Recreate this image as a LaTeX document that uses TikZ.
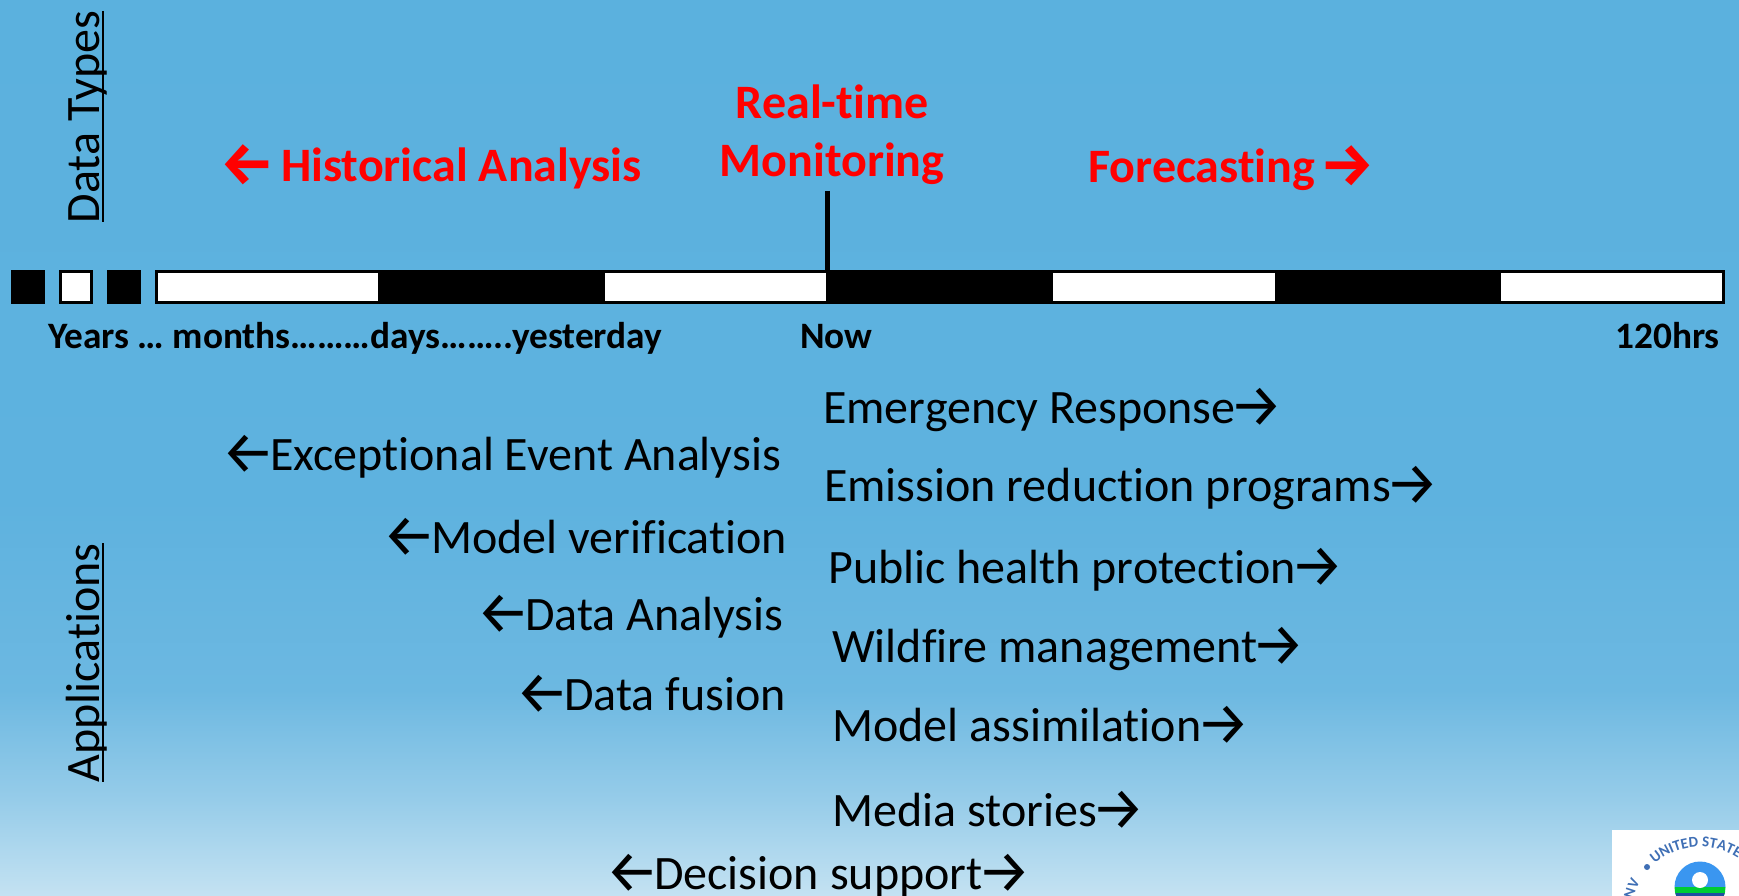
\documentclass[tikz,border=0pt]{standalone}
\usepackage{fontspec}
\setmainfont{Carlito}[RawFeature={-liga}]
\newfontfamily\arwfont{Fira Sans}
\usetikzlibrary{decorations.text}
\newcommand{\rarw}{\makebox[43pt][c]{\raisebox{-3pt}{\arwfont\fontsize{60}{60}\selectfont →}}}
\newcommand{\larw}{\makebox[43pt][c]{\raisebox{-3pt}{\arwfont\fontsize{60}{60}\selectfont ←}}}
\definecolor{skya}{HTML}{5BB1DE}
\definecolor{skyb}{HTML}{5EB2DF}
\definecolor{skyc}{HTML}{6CB8E1}
\definecolor{skyd}{HTML}{96CCE9}
\definecolor{skye}{HTML}{C4E2F2}
\definecolor{eparing}{HTML}{3F6FB5}
\definecolor{epablue}{HTML}{3A96F0}
\definecolor{epagreen}{HTML}{00CC33}
\definecolor{epadark}{HTML}{1F4FA0}
\pgfdeclareverticalshading{skyshade}{100bp}{color(0bp)=(skye);color(25bp)=(skye);color(30.4bp)=(skyd);color(36.5bp)=(skyc);color(47.1bp)=(skyb);color(75bp)=(skya);color(100bp)=(skya)}
\tikzset{
 seg/.style={anchor=north west,minimum height=31pt,inner sep=0pt,outer sep=0pt,line width=3pt},
 blackseg/.style={seg,fill=black,draw=black},
 whiteseg/.style={seg,fill=white,draw=black},
 scale label/.style={font=\fontsize{37.3}{37.3}\selectfont\bfseries,anchor=mid west,inner sep=0pt},
 head/.style={font=\fontsize{48}{58}\selectfont\bfseries,text=red,inner sep=0pt,align=center},
 app/.style={font=\fontsize{48}{48}\selectfont,anchor=mid west,inner sep=0pt},
 side/.style={font=\fontsize{48}{48}\selectfont,rotate=90,inner sep=0pt,anchor=mid},
}
\begin{document}
\begin{tikzpicture}[x=1pt,y=-1pt]
\useasboundingbox (0,0) rectangle (1739,896);
\shade[shading=skyshade] (0,0) rectangle (1739,896);
% side titles
\node[side] (dt) at (97,117) {Data Types};
\draw[line width=2.5pt] (103,11) -- (103,222);
\node[side] (ap) at (97,663) {Applications};
\draw[line width=2.5pt] (103,543) -- (103,782);
% headings
\node[head,anchor=mid west] (hist) at (226,179) {\larw\hspace{12pt}Historical Analysis};
\node[head] (rt) at (832,135) {Real-time\\Monitoring};
\node[head,anchor=mid west] (fc) at (1088,180) {Forecasting \rarw};
% time bar
\node[blackseg,minimum width=31pt] (b1) at (12.5,271.5) {};
\node[whiteseg,minimum width=31pt] (b2) at (60.5,271.5) {};
\node[blackseg,minimum width=31pt] (b3) at (108.5,271.5) {};
\node[whiteseg,minimum width=222.5pt] (b4) at (156.5,271.5) {};
\node[blackseg,minimum width=222pt] (b5) at (381.5,271.5) {};
\node[whiteseg,minimum width=223.5pt] (b6) at (603.5,271.5) {};
\node[blackseg,minimum width=222pt] (b7) at (829.5,271.5) {};
\node[whiteseg,minimum width=224.5pt] (b8) at (1051.5,271.5) {};
\node[blackseg,minimum width=222pt] (b9) at (1277.5,271.5) {};
\node[whiteseg,minimum width=224pt] (b10) at (1499.5,271.5) {};
\coordinate (tick) at (827,191);
\draw[line width=5pt] (tick) -- (827,270);
% scale labels
\node[scale label] (yrs) at (48,346) {Years … months………days……..yesterday};
\node[scale label] (now) at (800,346) {Now};
\node[scale label,anchor=mid east] (hrs) at (1720,346) {120hrs};
% applications
\node[app] (a1) at (227,468) {\larw Exceptional Event Analysis};
\node[app] (a2) at (388,551) {\larw Model verification};
\node[app] (a3) at (482,628) {\larw Data Analysis};
\node[app] (a4) at (521,708) {\larw Data fusion};
\node[app] (c1) at (823,421) {Emergency Response\rarw};
\node[app] (c2) at (824,499) {Emission reduction programs\rarw};
\node[app] (c3) at (828,581) {Public health protection\rarw};
\node[app] (c4) at (832,660) {Wildfire management\rarw};
\node[app] (c5) at (832,739) {Model assimilation\rarw};
\node[app] (c6) at (832,824) {Media stories\rarw};
\node[app] (c7) at (611,887) {\larw Decision support\rarw};
% logo
\begin{scope}
\clip (1612,830) rectangle (1739,896);
\fill[white] (1612,830) rectangle (1739,896);
\begin{scope}
\clip (1700,887) circle (25.5);
\fill[epablue] (1674,860) rectangle (1726,887);
\fill[epagreen] (1674,887) rectangle (1726,896);
\fill[epadark] (1674,893) rectangle (1726,896);
\end{scope}
\fill[white] (1700,880) circle (8);
\fill[eparing] (1647,867) circle (3);
\path[decorate,decoration={text along path,text={|\fontsize{15}{15}\selectfont\bfseries\color{eparing}|UNITED STATES}}]
  (1700,916) ++(-131:69) arc[start angle=-131,end angle=-30,radius=69];
\path[decorate,decoration={text along path,text={|\fontsize{15}{15}\selectfont\bfseries\color{eparing}|ENV}}]
  (1700,916) ++(-172:69) arc[start angle=-172,end angle=-141,radius=69];
\end{scope}
\end{tikzpicture}
\end{document}
